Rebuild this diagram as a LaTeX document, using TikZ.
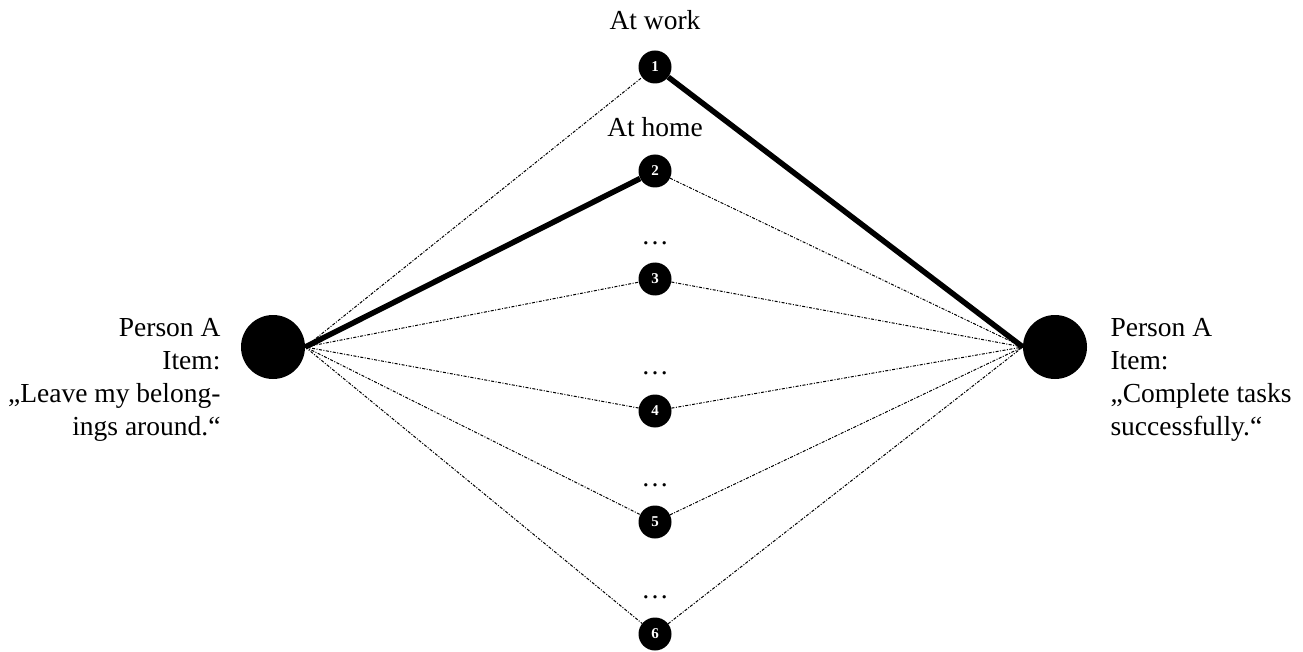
\documentclass[tikz,border=0pt]{standalone}
\usepackage{fontspec}
\setmainfont{Liberation Serif}
\begin{document}
\begin{tikzpicture}[x=1pt,y=-1pt,
  big/.style={circle,fill=black,minimum size=64pt,inner sep=0pt},
  small/.style={circle,fill=black,minimum size=33pt,inner sep=0pt,text=white,font=\fontsize{15}{15}\selectfont\bfseries},
  lbl/.style={font=\fontsize{27.5}{33}\selectfont},
  thin/.style={line width=1pt,dash pattern=on 3pt off 1.5pt on 1pt off 1.5pt},
  thick/.style={line width=5.5pt}]
\useasboundingbox (0,0) rectangle (1303,652);
\node[big] (L) at (273,347) {};
\node[big] (R) at (1055,347) {};
\node[small] (n1) at (655,67) {1};
\node[small] (n2) at (655,171) {2};
\node[small] (n3) at (655,279) {3};
\node[small] (n4) at (655,411) {4};
\node[small] (n5) at (655,522) {5};
\node[small] (n6) at (655,634) {6};
\node[lbl] (t1) at (655,20) {At work};
\node[lbl] (t2) at (655,127) {At home};
\node[lbl] (d3) at (655,243) {\dots};
\node[lbl] (d4) at (655,373) {\dots};
\node[lbl] (d5) at (655,485) {\dots};
\node[lbl] (d6) at (655,597) {\dots};
\node[lbl,anchor=east,align=right] (lt) at (224,380) {Person A\\Item:\\„Leave my belong-\\ings around.“};
\node[lbl,anchor=west,align=left] (rt) at (1107,380) {Person A\\Item:\\„Complete tasks\\successfully.“};
\coordinate (Le) at (L.east);
\coordinate (Rw) at (R.west);
\foreach \n in {n1,n3,n4,n5,n6} \draw[thin] (Le) -- (\n);
\foreach \n in {n2,n3,n4,n5,n6} \draw[thin] (\n) -- (Rw);
\draw[thick] (Le) -- (n2);
\draw[thick] (n1) -- (Rw);
\end{tikzpicture}
\end{document}
